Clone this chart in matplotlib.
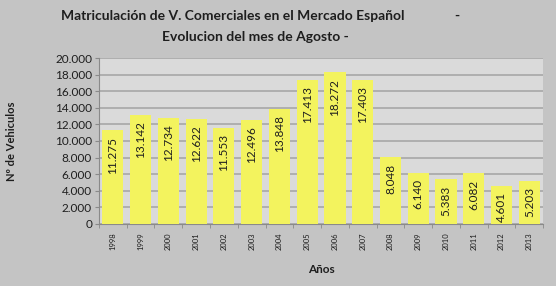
import matplotlib
matplotlib.use("Agg")
import matplotlib.pyplot as plt
import numpy as np

# ── Data ──────────────────────────────────────────────────────────────────────
years = ["1998", "1999", "2000", "2001", "2002", "2003", "2004", "2005",
         "2006", "2007", "2008", "2009", "2010", "2011", "2012", "2013"]
vehicles = [11275, 13142, 12734, 12622, 11553, 12496, 13848, 17413,
            18272, 17403, 8048, 6140, 5383, 6082, 4601, 5203]
yticks = [0, 2000, 4000, 6000, 8000, 10000, 12000, 14000, 16000, 18000, 20000]

BG, PLOT_BG = "#c4c4c4", "#dadada"
BAR = "#f3f35e"
GRID = "#a3a3a3"
TXT = "#1e1e1e"

plt.rcParams["font.family"] = ["Lato", "DejaVu Sans"]


def fmt(v):
    return f"{v:,}".replace(",", ".")


fig = plt.figure(figsize=(5.56, 2.86), dpi=100)
fig.patch.set_facecolor(BG)
ax = fig.add_axes([0.178, 0.217, 0.799, 0.580])
ax.set_facecolor(PLOT_BG)

x = np.arange(len(years))
ax.bar(x, vehicles, width=0.76, color=BAR, zorder=3)
for xi, v in zip(x, vehicles):
    ax.annotate(fmt(v), (xi, v), xytext=(0, -4.5), textcoords="offset points",
                rotation=90, ha="center", va="top", fontsize=8.5, color=TXT,
                zorder=4)

ax.set_xlim(-0.5, len(years) - 0.5)
ax.set_ylim(0, 20000)
ax.set_yticks(yticks)
ax.set_yticklabels([fmt(t) for t in yticks], fontsize=8.5, color=TXT)
ax.yaxis.grid(True, color=GRID, lw=1.1, zorder=0)
ax.set_axisbelow(True)

ax.set_xticks(x)
ax.set_xticklabels(years, rotation=90, fontsize=5.5, color=TXT)
ax.tick_params(axis="x", length=0, pad=6)
ax.set_xticks(np.arange(-0.5, len(years)), minor=True)
ax.tick_params(axis="x", which="minor", length=3, color="#8a8a8a")
ax.tick_params(axis="y", length=3, color="#8a8a8a", pad=2)

for side in ("top", "right"):
    ax.spines[side].set_visible(False)
ax.spines["left"].set_color("#8a8a8a")
ax.spines["bottom"].set_color("#8a8a8a")

ax.set_xlabel("Años", fontsize=8.5, fontweight="bold", color=TXT, labelpad=10)
ax.set_ylabel("Nº de Vehiculos", fontsize=8, fontweight="bold", color=TXT,
              labelpad=27)

fig.text(0.418, 0.945, "Matriculación de V. Comerciales en el Mercado Español",
         ha="center", va="center", fontsize=10, fontweight="bold", color=TXT)
fig.text(0.822, 0.945, "-", ha="center", va="center", fontsize=10,
         fontweight="bold", color=TXT)
fig.text(0.459, 0.870, "Evolucion del mes de Agosto -", ha="center",
         va="center", fontsize=10, fontweight="bold", color=TXT)

fig.savefig("out.png", dpi=100, facecolor=fig.get_facecolor())
